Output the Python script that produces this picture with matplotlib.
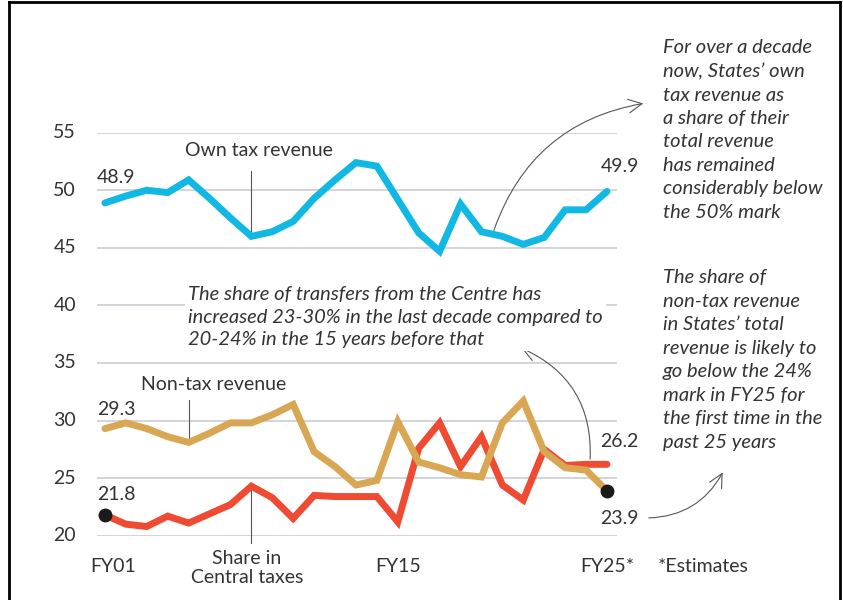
import numpy as np
import matplotlib
matplotlib.use("Agg")
import matplotlib.pyplot as plt
from matplotlib.patches import FancyArrowPatch
from matplotlib.lines import Line2D

plt.rcParams['font.family'] = ['Lato', 'DejaVu Sans']

years = ["FY%02d" % i for i in range(1, 26)]
own_tax = [48.9, 49.5, 50.0, 49.8, 50.9, 49.3, 47.6, 46.0, 46.4, 47.3, 49.3, 50.9, 52.4,
           52.1, 49.2, 46.3, 44.7, 48.8, 46.4, 46.0, 45.3, 45.9, 48.3, 48.3, 49.9]
non_tax = [29.3, 29.8, 29.3, 28.6, 28.1, 28.9, 29.8, 29.8, 30.5, 31.4, 27.3, 26.0, 24.4,
           24.8, 29.9, 26.4, 25.9, 25.3, 25.1, 29.8, 31.7, 27.3, 25.9, 25.7, 23.9]
central = [21.8, 21.0, 20.8, 21.7, 21.1, 21.9, 22.7, 24.3, 23.3, 21.5, 23.5, 23.4, 23.4,
           23.4, 21.2, 27.6, 29.8, 26.0, 28.6, 24.4, 23.1, 27.5, 26.1, 26.2, 26.2]
yticks = [20, 25, 30, 35, 40, 45, 50, 55]
xtick_labels = {0: "FY01", 14: "FY15", 24: "FY25*"}

W, H = 843, 600
def P(x, y):
    return (x / W, 1 - y / H)

fig = plt.figure(figsize=(8.43, 6), dpi=100)
ax = fig.add_axes([97 / W, 1 - 535.7 / H, 520 / W, 403 / H])
ax.set_xlim(-0.38, 24.48)
ax.set_ylim(20, 55)
ax.axis('off')

x = np.arange(len(years))
grid_c = '#c9cdd3'
for v in yticks:
    ax.axhline(v, color=grid_c, lw=1.2, zorder=1)
    ax.text(-1.38, v, str(v), ha='right', va='center', fontsize=14, color='#333333')

blue = '#12b8e4'
gold = '#d9a653'
red = '#ef4b32'
ax.plot(x, own_tax, color=blue, lw=5, solid_capstyle='round', solid_joinstyle='miter', zorder=3)
ax.plot(x, non_tax, color=gold, lw=5, solid_capstyle='round', solid_joinstyle='miter', zorder=4)
ax.plot(x, central, color=red, lw=5, solid_capstyle='round', solid_joinstyle='miter', zorder=3)
ax.plot([x[0]], [central[0]], 'o', color='#1a1a1a', ms=9, zorder=5, clip_on=False)
ax.plot([x[-1]], [non_tax[-1]], 'o', color='#1a1a1a', ms=9, zorder=5, clip_on=False)

# end labels
tc = '#333333'
ax.text(-0.38, own_tax[0] + 2.2, "48.9", fontsize=14, color=tc, va='center')
ax.text(24.6, own_tax[-1] + 2.2, "49.9", fontsize=14, color=tc, va='center', ha='center')
ax.text(-0.38, non_tax[0] + 1.7, "29.3", fontsize=14, color=tc, va='center')
ax.text(-0.38, central[0] + 1.8, "21.8", fontsize=14, color=tc, va='center')
ax.text(24.6, central[-1] + 2.0, "26.2", fontsize=14, color=tc, va='center', ha='center')
ax.text(24.6, non_tax[-1] - 2.4, "23.9", fontsize=14, color=tc, va='center', ha='center')

# series labels with leader lines
lc = '#555555'
ax.plot([7, 7], [own_tax[7], 51.7], color=lc, lw=0.8, zorder=2)
fig.text(*P(259, 151), "Own tax revenue", fontsize=14, color=tc, ha='center', va='center')
ax.plot([4, 4], [non_tax[4], 31.8], color=lc, lw=0.8, zorder=2)
fig.text(*P(214, 385), "Non-tax revenue", fontsize=14, color=tc, ha='center', va='center')
ax.plot([7, 7], [central[7], 19.4], color=lc, lw=0.8, zorder=2, clip_on=False)
fig.text(*P(247, 568), "Share in\nCentral taxes", fontsize=14, color=tc, ha='center', va='center',
         linespacing=1.15)

# x labels
for i, lab in xtick_labels.items():
    fig.text(*P(105 + i * 20.92 + (8 if i == 0 else 0), 567), lab, fontsize=14, color=tc,
             ha='center', va='center')
fig.text(*P(658, 566), "*Estimates", fontsize=14, color=tc, ha='left', va='center')

# italic notes
fig.text(*P(188, 317), "The share of transfers from the Centre has\n"
         "increased 23-30% in the last decade compared to\n"
         "20-24% in the 15 years before that", fontsize=14.5, style='italic', color=tc,
         ha='left', va='center', linespacing=1.42,
         bbox=dict(facecolor='white', edgecolor='none', pad=2))
fig.text(*P(663, 130), "For over a decade\nnow, States\u2019 own\ntax revenue as\na share of their\n"
         "total revenue\nhas remained\nconsiderably below\nthe 50% mark",
         fontsize=14.5, style='italic', color=tc, ha='left', va='center', linespacing=1.46)
fig.text(*P(663, 360), "The share of\nnon-tax revenue\nin States\u2019 total\nrevenue is likely to\n"
         "go below the 24%\nmark in FY25 for\nthe first time in the\npast 25 years",
         fontsize=14.5, style='italic', color=tc, ha='left', va='center', linespacing=1.46)

# arrows
akw = dict(arrowstyle='->,head_length=0.7,head_width=0.35', color='#555555', lw=0.8,
           mutation_scale=14, transform=fig.transFigure)
fig.patches.append(FancyArrowPatch(P(493, 233), P(646, 103), connectionstyle='arc3,rad=-0.3', **akw))
fig.patches.append(FancyArrowPatch(P(590, 462), P(519, 347), connectionstyle='arc3,rad=0.35', **akw))
fig.patches.append(FancyArrowPatch(P(646, 518), P(724, 470), connectionstyle='arc3,rad=0.3', **akw))

# frame
for xs, ys in [((9, 9), (2, 600)), ((9, 840), (2, 2)), ((840, 840), (2, 600))]:
    fig.lines.append(Line2D([v / W for v in xs], [1 - v / H for v in ys], color='black', lw=2,
                            transform=fig.transFigure))

fig.savefig("out.png", dpi=100, facecolor='white')
